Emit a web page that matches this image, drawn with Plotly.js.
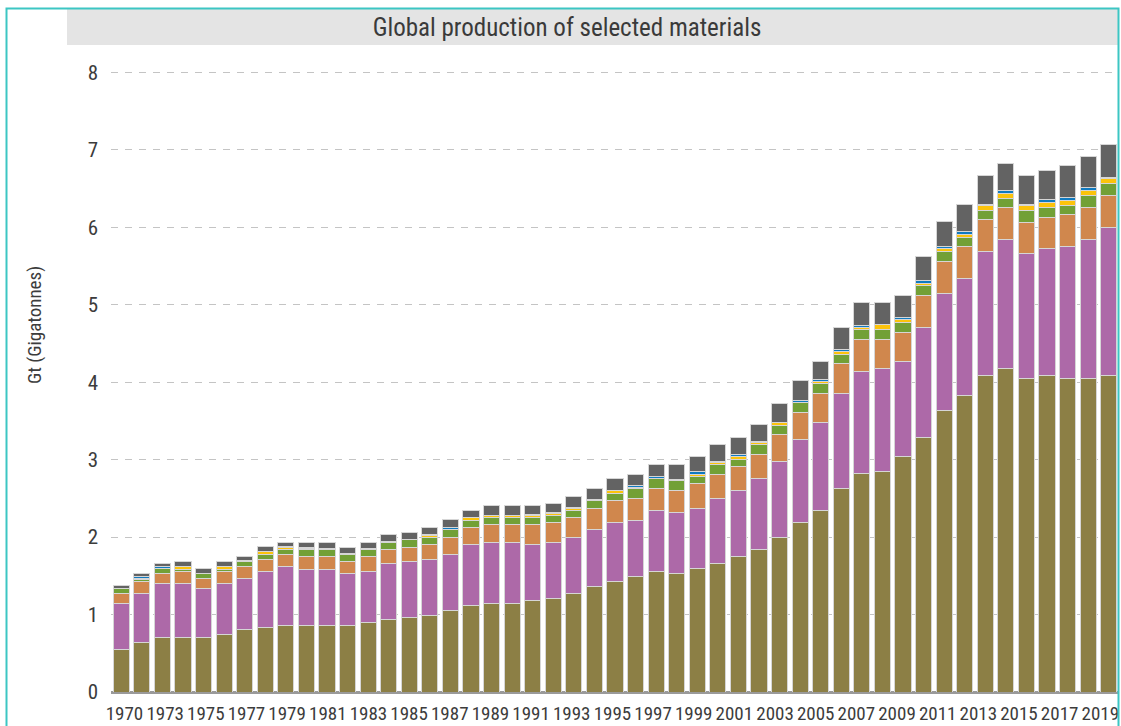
<!DOCTYPE html>
<html>
<head>
<meta charset="utf-8">
<script src="https://cdn.plot.ly/plotly-3.0.1.min.js"></script>
<style>
  html, body { margin: 0; padding: 0; background: #ffffff; }
  #chart { width: 1121px; height: 726px; }
</style>
</head>
<body>
<div id="chart"></div>
<script>
// Categories (one year is absent between 1970 and 1973 in the source)
const years = ["1970","1971","1973","1974","1975","1976","1977","1978","1979","1980",
  "1981","1982","1983","1984","1985","1986","1987","1988","1989","1990",
  "1991","1992","1993","1994","1995","1996","1997","1998","1999","2000",
  "2001","2002","2003","2004","2005","2006","2007","2008","2009","2010",
  "2011","2012","2013","2014","2015","2016","2017","2018","2019"];

const tickLabels = ["1970","1973","1975","1977","1979","1981","1983","1985","1987","1989",
  "1991","1993","1995","1997","1999","2001","2003","2005","2007","2009",
  "2011","2013","2015","2017","2019"];

// Series values (Gt), bottom to top of each stack
const seriesOlive = [0.545,0.644,0.708,0.708,0.708,0.738,0.802,0.829,0.863,0.863,
  0.863,0.863,0.893,0.932,0.958,0.988,1.052,1.113,1.147,1.147,
  1.177,1.211,1.272,1.367,1.431,1.496,1.556,1.524,1.591,1.653,
  1.745,1.840,1.998,2.184,2.349,2.633,2.818,2.852,3.037,3.291,
  3.640,3.826,4.083,4.173,4.053,4.083,4.053,4.053,4.083];

const seriesPurple = [0.602,0.628,0.689,0.689,0.629,0.659,0.659,0.731,0.758,0.723,
  0.723,0.663,0.667,0.723,0.723,0.727,0.726,0.792,0.788,0.788,
  0.728,0.724,0.726,0.726,0.756,0.725,0.790,0.788,0.785,0.848,
  0.852,0.913,0.977,1.072,1.131,1.226,1.325,1.321,1.231,1.421,
  1.511,1.518,1.604,1.674,1.606,1.640,1.700,1.794,1.919];

const seriesOrange = [0.125,0.159,0.129,0.163,0.124,0.163,0.160,0.155,0.159,0.159,
  0.159,0.159,0.185,0.185,0.189,0.190,0.220,0.219,0.222,0.222,
  0.252,0.252,0.253,0.283,0.284,0.280,0.285,0.285,0.316,0.314,
  0.315,0.318,0.346,0.349,0.379,0.377,0.408,0.378,0.378,0.409,
  0.413,0.409,0.409,0.410,0.409,0.409,0.409,0.410,0.410];

const seriesGreen = [0.060,0.026,0.065,0.026,0.065,0.026,0.064,0.065,0.064,0.099,
  0.099,0.095,0.099,0.091,0.095,0.090,0.095,0.093,0.090,0.090,
  0.090,0.095,0.095,0.095,0.095,0.130,0.124,0.133,0.093,0.125,
  0.093,0.125,0.125,0.129,0.129,0.125,0.125,0.125,0.129,0.125,
  0.129,0.121,0.120,0.120,0.150,0.125,0.125,0.155,0.159];

const seriesYellow = [0.005,0.008,0.007,0.030,0.005,0.030,0.005,0.030,0.026,0.004,
  0.004,0.004,0.004,0.005,0.005,0.030,0.005,0.030,0.032,0.032,
  0.032,0.026,0.030,0.005,0.031,0.005,0.005,0.005,0.030,0.030,
  0.030,0.030,0.030,0.005,0.026,0.035,0.030,0.065,0.030,0.030,
  0.030,0.034,0.065,0.065,0.065,0.064,0.065,0.064,0.064];

const seriesBlue = [0.005,0.027,0.023,0.005,0.004,0.004,0.004,0.005,0.005,0.022,
  0.004,0.004,0.004,0.004,0.004,0.005,0.026,0.005,0.006,0.006,
  0.017,0.005,0.009,0.004,0.008,0.025,0.025,0.014,0.031,0.005,
  0.030,0.005,0.005,0.025,0.016,0.030,0.030,0.005,0.031,0.035,
  0.030,0.039,0.017,0.034,0.013,0.035,0.030,0.035,0.010];

const seriesGray = [0.029,0.034,0.034,0.060,0.055,0.061,0.056,0.060,0.060,0.065,
  0.083,0.082,0.083,0.090,0.086,0.094,0.099,0.090,0.123,0.123,
  0.112,0.124,0.146,0.146,0.148,0.154,0.156,0.192,0.189,0.221,
  0.226,0.219,0.249,0.254,0.238,0.284,0.289,0.279,0.284,0.314,
  0.323,0.342,0.371,0.349,0.373,0.374,0.413,0.409,0.429];

const seriesList = [
  {name: "Series 1", y: seriesOlive,  color: "#8c7f45"},
  {name: "Series 2", y: seriesPurple, color: "#ad69a8"},
  {name: "Series 3", y: seriesOrange, color: "#d0874d"},
  {name: "Series 4", y: seriesGreen,  color: "#72a036"},
  {name: "Series 5", y: seriesYellow, color: "#fcc30b"},
  {name: "Series 6", y: seriesBlue,   color: "#117abf"},
  {name: "Series 7", y: seriesGray,   color: "#636363"}
];

const traces = seriesList.map(s => ({
  type: "bar",
  name: s.name,
  x: years,
  y: s.y,
  marker: {color: s.color, line: {color: "#d6d6d6", width: 1}},
  hoverinfo: "x+y+name"
}));

// label axis: the source's year labels are spread slightly narrower than the bars
const labelIdx = tickLabels.map(l => years.indexOf(l));
// carrier (draws nothing) so that the label axis is rendered
traces.push({
  type: "scatter", mode: "none", xaxis: "x2", yaxis: "y",
  x: labelIdx, y: labelIdx.map(() => 0),
  hoverinfo: "skip", showlegend: false
});

const FONT = "Roboto Condensed, Liberation Sans Narrow, DejaVu Sans Condensed, Roboto, sans-serif";

// layout geometry helpers
const W = 1121, H = 726;
const mL = 111, mR = 2, mT = 70, mB = 34;
const pw = W - mL - mR, ph = H - mT - mB;
const px = v => (v - mL) / pw;
const py = v => (H - mB - v) / ph;

const layout = {
  width: W, height: H,
  margin: {l: mL, r: mR, t: mT, b: mB, pad: 0},
  paper_bgcolor: "#ffffff",
  plot_bgcolor: "#ffffff",
  barmode: "stack",
  bargap: 0.22,
  showlegend: false,
  font: {family: FONT, color: "#3c3c3c"},
  title: {
    text: "Global production of selected materials",
    font: {family: FONT, size: 25, color: "#3a3a3a"},
    x: 567 / W, xanchor: "center",
    y: 1 - 27 / H, yanchor: "middle",
    xref: "container", yref: "container"
  },
  xaxis: {
    type: "category",
    showticklabels: false,
    ticks: "",
    showgrid: false,
    showline: false,
    zeroline: false,
    fixedrange: true,
    range: [-0.5, years.length - 0.5]
  },
  xaxis2: {
    overlaying: "x",
    anchor: "y",
    side: "bottom",
    type: "linear",
    range: [-0.664, 48.92],
    tickmode: "array",
    tickvals: labelIdx,
    ticktext: tickLabels,
    tickfont: {family: FONT, size: 19, color: "#3c3c3c"},
    ticklabelstandoff: 8,
    ticks: "",
    showgrid: false,
    showline: false,
    zeroline: false,
    fixedrange: true
  },
  yaxis: {
    range: [0, 8.032],
    tickvals: [0,1,2,3,4,5,6,7,8],
    tickfont: {family: FONT, size: 21, color: "#3c3c3c"},
    showgrid: true,
    gridcolor: "#c4c4c4",
    gridwidth: 1,
    griddash: "7px,7px",
    zeroline: true,
    zerolinecolor: "#9a9a9a",
    zerolinewidth: 3,
    ticks: "",
    ticklabelstandoff: 12,
    showline: false,
    fixedrange: true,
    automargin: false
  },
  annotations: [
    {text: "Gt (Gigatonnes)", textangle: -90, showarrow: false,
     xref: "paper", yref: "paper", x: px(34), y: py(325),
     xanchor: "center", yanchor: "middle",
     font: {family: FONT, size: 19, color: "#3c3c3c"}}
  ],
  shapes: [
    // grey title band
    {type: "rect", xref: "paper", yref: "paper", layer: "below",
     x0: px(67), x1: px(1118), y0: py(45), y1: py(9),
     fillcolor: "#e4e4e4", line: {width: 0}},
    // teal frame
    {type: "rect", xref: "paper", yref: "paper", layer: "above",
     x0: px(6.5), x1: px(1118.5), y0: py(740), y1: py(8.5),
     fillcolor: "rgba(0,0,0,0)", line: {color: "#3cc6c3", width: 2}}
  ]
};

Plotly.newPlot("chart", traces, layout, {displayModeBar: false, staticPlot: true});
</script>
</body>
</html>
